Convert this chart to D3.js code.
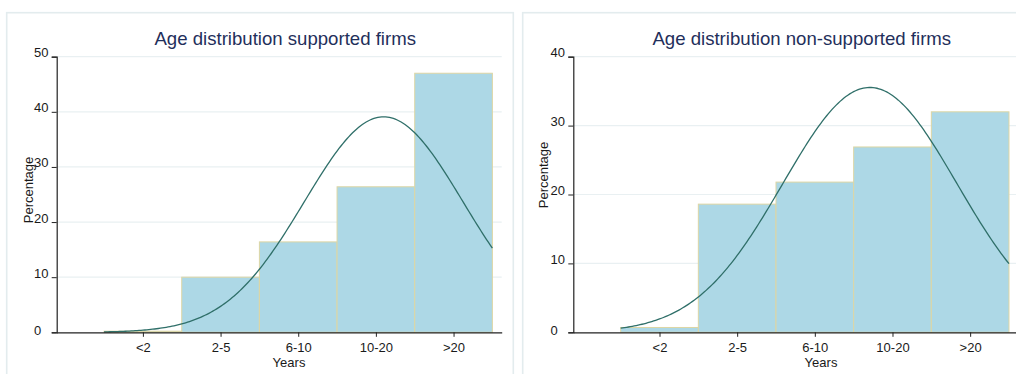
<!DOCTYPE html>
<html>
<head>
<meta charset="utf-8">
<script src="https://cdn.jsdelivr.net/npm/d3@7"></script>
<style>
  html, body { margin: 0; padding: 0; background: #ffffff; }
  svg { display: block; font-family: "Liberation Sans", Arial, sans-serif; }
</style>
</head>
<body>
<svg id="chart" width="1016" height="374"></svg>
<script>
// Age categories (discrete bins, one per position 1..5)
const categories = ["<2", "2-5", "6-10", "10-20", ">20"];

// Share of firms in each age class (%)
const supportedPct = [0.2, 10.0, 16.4, 26.4, 47.0];
const nonSupportedPct = [0.7, 18.6, 21.8, 26.9, 32.0];

// Y tick values for each panel
const supportedTicks = [0, 10, 20, 30, 40, 50];
const nonSupportedTicks = [0, 10, 20, 30, 40];

const panelTitles = ["Age distribution supported firms", "Age distribution non-supported firms"];
const yTitle = "Percentage";
const xTitle = "Years";

const svg = d3.select("#chart");

const COLORS = {
  frame: "#e3ecee",
  grid: "#e9f0f2",
  axis: "#222222",
  title: "#1f2f5b",
  text: "#1a1a1a",
  barFill: "#add8e6",
  barStroke: "#ddd6a4",
  curve: "#2f6f69"
};

// Normal density fitted to a discrete percentage histogram (bin width 1)
function normalFit(pcts) {
  const total = d3.sum(pcts);
  const mean = d3.sum(pcts, (p, i) => p * (i + 1)) / total;
  const variance = d3.sum(pcts, (p, i) => p * (i + 1 - mean) ** 2) / total;
  const sd = Math.sqrt(variance);
  return x => total / (sd * Math.sqrt(2 * Math.PI)) * Math.exp(-((x - mean) ** 2) / (2 * variance));
}

function drawPanel(cfg) {
  const g = svg.append("g");

  // panel frame
  g.append("rect")
    .attr("x", cfg.frameX).attr("y", 12.7)
    .attr("width", cfg.frameW).attr("height", 420)
    .attr("fill", "#ffffff")
    .attr("stroke", COLORS.frame).attr("stroke-width", 1.6);

  const x = d3.scaleLinear().domain([-0.11, 5.62]).range([cfg.axisX, cfg.axisX + 445]);
  const y = d3.scaleLinear().domain([0, d3.max(cfg.ticks)]).range([332.3, 56.7]);

  // horizontal gridlines
  g.append("g").selectAll("line").data(cfg.ticks.filter(t => t > 0)).join("line")
    .attr("x1", cfg.axisX).attr("x2", x.range()[1])
    .attr("y1", d => y(d)).attr("y2", d => y(d))
    .attr("stroke", COLORS.grid).attr("stroke-width", 1.2);

  // histogram bars
  g.append("g").selectAll("rect").data(cfg.values).join("rect")
    .attr("x", (d, i) => x(i + 0.5))
    .attr("width", (d, i) => x(i + 1.5) - x(i + 0.5))
    .attr("y", d => y(d))
    .attr("height", d => y(0) - y(d))
    .attr("fill", COLORS.barFill)
    .attr("stroke", COLORS.barStroke).attr("stroke-width", 1);

  // normal overlay
  const dens = normalFit(cfg.values);
  const pts = d3.range(0, 201).map(k => 0.5 + k * 5 / 200);
  g.append("path")
    .datum(pts)
    .attr("d", d3.line().x(d => x(d)).y(d => y(dens(d))))
    .attr("fill", "none")
    .attr("stroke", COLORS.curve).attr("stroke-width", 1.3);

  // y axis
  const yAxis = d3.axisLeft(y).tickValues(cfg.ticks).tickSize(5).tickFormat(d3.format("d"));
  const ya = g.append("g").attr("transform", `translate(${cfg.axisX},0)`).call(yAxis);
  ya.select(".domain").attr("stroke", COLORS.axis).attr("stroke-width", 1.2);
  ya.selectAll(".tick line").attr("stroke", COLORS.axis);
  ya.selectAll(".tick text")
    .attr("x", -22.7).attr("dy", d => d === 0 ? "0.2em" : "0")
    .attr("text-anchor", "start")
    .attr("font-size", 13).attr("fill", COLORS.text)
    .attr("font-family", "Liberation Sans, Arial, sans-serif");

  // x axis
  const xAxis = d3.axisBottom(x).tickValues(d3.range(1, categories.length + 1))
    .tickSize(4.5).tickSizeOuter(0).tickFormat((d, i) => categories[i]);
  const xa = g.append("g").attr("transform", `translate(0,${y(0)})`).call(xAxis);
  xa.select(".domain").attr("stroke", COLORS.axis).attr("stroke-width", 1.2);
  xa.selectAll(".tick line").attr("stroke", COLORS.axis);
  xa.selectAll(".tick text")
    .attr("y", 19.5).attr("dy", "0")
    .attr("font-size", 13).attr("fill", COLORS.text)
    .attr("font-family", "Liberation Sans, Arial, sans-serif");

  // titles
  g.append("text")
    .attr("x", cfg.axisX + 228.5).attr("y", 45)
    .attr("text-anchor", "middle")
    .attr("font-size", 18.6).attr("fill", COLORS.title)
    .text(cfg.title);

  g.append("text")
    .attr("transform", `translate(${cfg.yTitleX},${cfg.yTitleY}) rotate(-90)`)
    .attr("text-anchor", "middle")
    .attr("font-size", 13).attr("fill", COLORS.text)
    .text(yTitle);

  g.append("text")
    .attr("x", cfg.xTitleX).attr("y", 367)
    .attr("text-anchor", "middle")
    .attr("font-size", 13).attr("fill", COLORS.text)
    .text(xTitle);
}

drawPanel({
  frameX: 6.7, frameW: 506.6, axisX: 56.7,
  values: supportedPct, ticks: supportedTicks, title: panelTitles[0],
  yTitleX: 32.5, yTitleY: 190, xTitleX: 289
});

drawPanel({
  frameX: 522.7, frameW: 600, axisX: 573.3,
  values: nonSupportedPct, ticks: nonSupportedTicks, title: panelTitles[1],
  yTitleX: 547.5, yTitleY: 175, xTitleX: 821
});
</script>
</body>
</html>
